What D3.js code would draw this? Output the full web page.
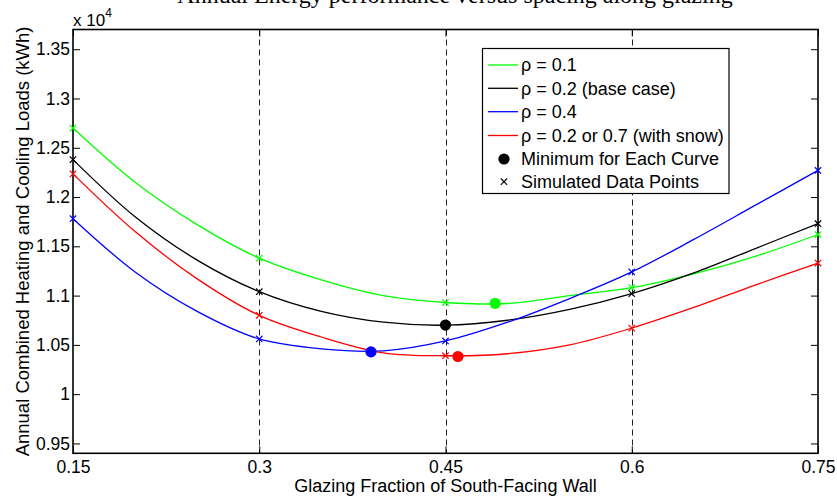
<!DOCTYPE html>
<html><head><meta charset="utf-8">
<script src="https://cdn.jsdelivr.net/npm/d3@7"></script>
<style>
html,body{margin:0;padding:0;background:#fff;}
svg{display:block;font-family:"Liberation Sans",Arial,Helvetica,sans-serif;}
</style></head>
<body>
<svg id="chart" width="837" height="497"></svg>
<script>
// ---- data (values in units of 10^4 kWh) ----
const xValues = [0.15,0.20,0.25,0.30,0.35,0.40,0.45,0.50,0.55,0.60,0.65,0.70,0.75];
const rho01   = [1.270,1.215,1.172,1.138,1.116,1.100,1.093,1.092,1.100,1.108,1.122,1.140,1.162];
const rho02   = [1.238,1.180,1.136,1.104,1.084,1.073,1.070,1.075,1.086,1.102,1.123,1.148,1.173];
const rho04   = [1.178,1.124,1.084,1.056,1.046,1.044,1.054,1.073,1.097,1.124,1.157,1.192,1.227];
const rhoSnow = [1.2235,1.165,1.117,1.080,1.058,1.042,1.039,1.041,1.050,1.067,1.088,1.111,1.133];
const simulatedX = [0.15,0.30,0.45,0.60,0.75];
const minX = [0.49,0.45,0.39,0.46];
const minY = [1.0922,1.0701,1.0429,1.0382];
const seriesNames = ["\u03c1 = 0.1","\u03c1 = 0.2 (base case)","\u03c1 = 0.4","\u03c1 = 0.2 or 0.7 (with snow)"];
const seriesColors = ["#00ff00","#000000","#0000ff","#ff0000"];
const xTicks = [0.15,0.3,0.45,0.6,0.75];
const xTickLabels = ["0.15","0.3","0.45","0.6","0.75"];
const yTicks = [0.95,1,1.05,1.1,1.15,1.2,1.25,1.3,1.35];
const yTickLabels = ["0.95","1","1.05","1.1","1.15","1.2","1.25","1.3","1.35"];
const gridX = [0.3,0.45,0.6];

const seriesValues = [rho01, rho02, rho04, rhoSnow];

const svg = d3.select("#chart");
const L = 73, R = 818, T = 29.5, B = 453.3;
const x = d3.scaleLinear().domain([0.15,0.75]).range([L,R]);
const y = d3.scaleLinear().domain([0.94,1.37]).range([B,T]);

// clipped title at very top (only its lower part shows, as in the source)
svg.append("text").attr("x",455).attr("y",3).attr("text-anchor","middle")
  .attr("font-family","'Liberation Serif','Times New Roman',serif").attr("font-size",24)
  .text("Annual Energy performance versus spacing along glazing");

// grid dashed lines
svg.append("g").selectAll("line").data(gridX).join("line")
  .attr("x1",d=>Math.round(x(d))+0.5).attr("x2",d=>Math.round(x(d))+0.5)
  .attr("y1",T).attr("y2",B)
  .attr("stroke","#222").attr("stroke-width",1).attr("stroke-dasharray","6,4");

// axes
const tl = 7;
const axL = svg.append("g").attr("transform",`translate(${L},0)`)
  .call(d3.axisLeft(y).tickValues(yTicks).tickSize(-tl).tickPadding(3).tickFormat((d,i)=>yTickLabels[i]));
const axR = svg.append("g").attr("transform",`translate(${R},0)`)
  .call(d3.axisRight(y).tickValues(yTicks).tickSize(-tl).tickFormat(""));
const axB = svg.append("g").attr("transform",`translate(0,${B})`)
  .call(d3.axisBottom(x).tickValues(xTicks).tickSize(-tl).tickPadding(7).tickFormat((d,i)=>xTickLabels[i]));
const axT = svg.append("g").attr("transform",`translate(0,${T})`)
  .call(d3.axisTop(x).tickValues(xTicks).tickSize(-tl).tickFormat(""));
[axL,axR,axB,axT].forEach(a=>{
  a.select(".domain").remove();
  a.selectAll(".tick line").attr("stroke","#000").attr("stroke-width",1);
  a.selectAll("text").attr("font-size",17.5).attr("fill","#000").attr("font-family","'Liberation Sans',Arial,sans-serif");
});
// frame
svg.append("rect").attr("x",L).attr("y",T).attr("width",R-L).attr("height",B-T)
  .attr("fill","none").attr("stroke","#000").attr("stroke-width",1.6);

// curves
const line = d3.line().x(d=>x(d[0])).y(d=>y(d[1])).curve(d3.curveCatmullRom.alpha(0.5));
seriesValues.forEach((vals,i)=>{
  const pts = xValues.map((xv,j)=>[xv,vals[j]]);
  svg.append("path").datum(pts).attr("d",line)
    .attr("fill","none").attr("stroke",seriesColors[i]).attr("stroke-width",1.3);
  const sim = pts.filter(p=>simulatedX.some(s=>Math.abs(s-p[0])<1e-9));
  const s = 3.2;
  svg.append("g").selectAll("path").data(sim).join("path")
    .attr("d",d=>{const cx=x(d[0]),cy=y(d[1]);return `M${cx-s},${cy-s}L${cx+s},${cy+s}M${cx-s},${cy+s}L${cx+s},${cy-s}`;})
    .attr("stroke",seriesColors[i]).attr("stroke-width",1.2).attr("fill","none");
});
// minimum dots
svg.append("g").selectAll("circle").data(minX).join("circle")
  .attr("cx",d=>x(d)).attr("cy",(d,i)=>y(minY[i])).attr("r",5.6)
  .attr("fill",(d,i)=>seriesColors[i]);

// legend
const lg = svg.append("g");
lg.append("rect").attr("x",482.5).attr("y",48.5).attr("width",246.5).attr("height",145)
  .attr("fill","#fff").attr("stroke","#000").attr("stroke-width",1.2);
const rowY = [65,88.3,111.7,135.5,159,181.7];
seriesNames.forEach((n,i)=>{
  lg.append("line").attr("x1",488).attr("x2",518).attr("y1",rowY[i]).attr("y2",rowY[i])
    .attr("stroke",seriesColors[i]).attr("stroke-width",1.3);
  lg.append("text").attr("x",521).attr("y",rowY[i]).attr("dy","0.36em")
    .attr("font-size",18).text(n);
});
lg.append("circle").attr("cx",504).attr("cy",rowY[4]).attr("r",5.6).attr("fill","#000");
lg.append("text").attr("x",521).attr("y",rowY[4]).attr("dy","0.36em").attr("font-size",18).text("Minimum for Each Curve");
{
  const cx=504, cy=rowY[5], s=3.2;
  lg.append("path").attr("d",`M${cx-s},${cy-s}L${cx+s},${cy+s}M${cx-s},${cy+s}L${cx+s},${cy-s}`)
    .attr("stroke","#000").attr("stroke-width",1.1);
}
lg.append("text").attr("x",521).attr("y",rowY[5]).attr("dy","0.36em").attr("font-size",18).text("Simulated Data Points");

// axis titles
svg.append("text").attr("x",(L+R)/2).attr("y",492).attr("text-anchor","middle")
  .attr("font-size",18).text("Glazing Fraction of South-Facing Wall");
svg.append("text").attr("transform",`translate(29,${(T+B)/2}) rotate(-90)`).attr("text-anchor","middle")
  .attr("font-size",18.5).text("Annual Combined Heating and Cooling Loads (kWh)");
// exponent
const ex = svg.append("text").attr("x",73).attr("y",26).attr("font-size",17);
ex.append("tspan").text("x 10");
ex.append("tspan").attr("dy",-9).attr("font-size",12).text("4");
</script>
</body></html>
